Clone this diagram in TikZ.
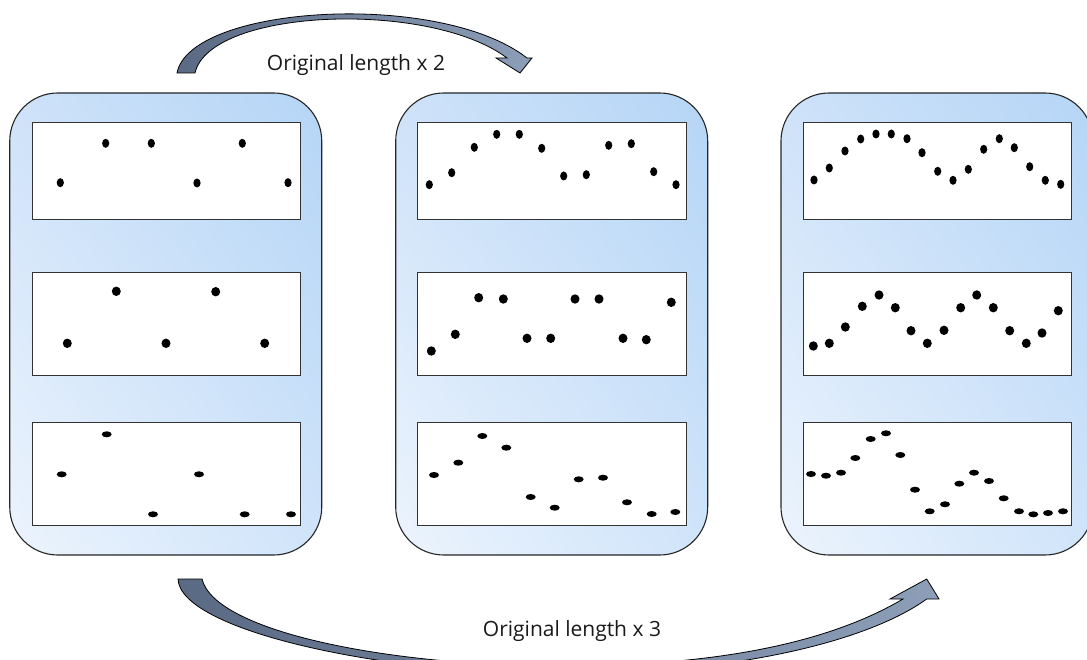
\documentclass[tikz,border=0pt]{standalone}
\usepackage{fontspec}
\setmainfont{Open Sans}
\usetikzlibrary{shadings}
\definecolor{pUL}{RGB}{206,226,249}
\definecolor{pUR}{RGB}{181,213,246}
\definecolor{pLL}{RGB}{236,244,253}
\definecolor{pLR}{RGB}{208,228,250}
\definecolor{arD}{RGB}{90,106,133}
\definecolor{arL}{RGB}{140,158,184}
\begin{document}
\begin{tikzpicture}[x=1pt,y=-1pt,
  panel/.style={draw=black!85, line width=1.1pt, rounded corners=48pt,
    minimum width=312pt, minimum height=462pt, inner sep=0pt, shade,
    upper left=pUL, upper right=pUR, lower left=pLL, lower right=pLR},
  plotbox/.style={draw=black!80, line width=1pt, fill=white,
    minimum width=268.5pt, inner sep=0pt},
  blockarrow/.style={draw=black, line width=0.8pt, shade, left color=arD, right color=arL},
  lbl/.style={anchor=base, text=black!90, font=\fontsize{21}{25}\selectfont}]
\useasboundingbox (0,0) rectangle (1087,660);

% panels
\node[panel] (p1) at (165.75,324) {};
\node[panel] (p2) at (551.7,324) {};
\node[panel] (p3) at (937,324) {};

% plot boxes
\foreach \p/\cx in {p1/166.4, p2/551.9, p3/937.5}{
  \node[plotbox, minimum height=96.6pt] (\p a) at (\cx,171) {};
  \node[plotbox, minimum height=103pt] (\p b) at (\cx,324.2) {};
  \node[plotbox, minimum height=103.3pt] (\p c) at (\cx,474.3) {};
}

% dots: top rows
\foreach \x/\y in {60.3/182.7, 105.7/143.3, 151.3/143.3, 197/183, 242.3/143.3, 288/182.7,
  429.3/184.7, 451.7/172.7, 474.3/147.3, 496.7/134.3, 519.3/134.3, 541.7/148.3, 563.7/176, 586.3/174.7, 608.7/145.3, 631.3/143.7, 653.7/171.7, 676/184.7,
  814/180, 829.3/168, 845/151, 860.7/139, 876/134, 891.3/134, 907/138.7, 922/152.7, 937.7/171.3, 953/180.3, 968.3/169.3, 983.7/149.3, 999.3/138.7, 1014.3/147.7, 1029.7/166.7, 1045.3/180.3, 1060.7/184.3}
  \fill (\x,\y) ellipse [x radius=3.6pt, y radius=4.5pt];

% dots: middle rows
\foreach \x/\y in {67.3/343.3, 116.3/291.3, 166/343.3, 215.7/291.7, 264.7/343.3,
  431.3/351, 455.3/334.3, 478.7/297.7, 503.3/299, 527/338.3, 550.7/338.3, 575/299, 599/299, 623/338.3, 646.3/339.7, 671.3/302.3,
  813.3/346, 829.3/343.3, 845.3/327, 862.3/306.3, 879/295, 895.3/307.7, 911/330.7, 927.3/343.3, 944/330.3, 960.7/307.7, 976.7/295, 993.3/307.7, 1009.7/330.7, 1026.3/343.3, 1042/333, 1058.3/310.7}
  \fill (\x,\y) ellipse [x radius=4.5pt, y radius=4.7pt];

% dots: bottom rows
\foreach \x/\y in {61.7/474.3, 106.7/434.3, 153/514.3, 199/474.3, 244.7/514.3, 291/514.3,
  434/475, 458.3/462.7, 482.3/436, 506.3/447.7, 530.7/497, 554.7/507.7, 578.7/479.3, 603/477.7, 627/502.3, 651.7/514, 675.3/512,
  811/474, 826/475.7, 841/472.7, 855.3/458, 870.7/439, 886/433.3, 900.3/455, 915/489.7, 929.7/511.3, 945/504.3, 959.3/483.7, 974/472.7, 989/481, 1003.7/498.3, 1019/511.3, 1033.3/514.3, 1048/513, 1063/511.3}
  \fill (\x,\y) ellipse [x radius=5pt, y radius=3pt];

% top curved block arrow
\path[blockarrow] (177,73) .. controls (190,5) and (440,-10) .. (527,58)
  -- (532,58) -- (520,73) -- (496,58) -- (507,58)
  .. controls (430,0) and (210,8) .. (195,73) -- cycle;
\node[lbl] (t1) at (356,70.5) {Original length x 2};

% bottom curved block arrow
\path[blockarrow] (178,579) .. controls (180,630) and (380,674) .. (560,674)
  .. controls (740,674) and (870,640) .. (926.7,599)
  -- (939,599) -- (926.7,579) -- (890,599) -- (903,599)
  .. controls (830,642) and (720,666) .. (560,666)
  .. controls (390,666) and (215,632) .. (202,579) -- cycle;
\node[lbl] (t2) at (572,636.5) {Original length x 3};
\end{tikzpicture}
\end{document}
